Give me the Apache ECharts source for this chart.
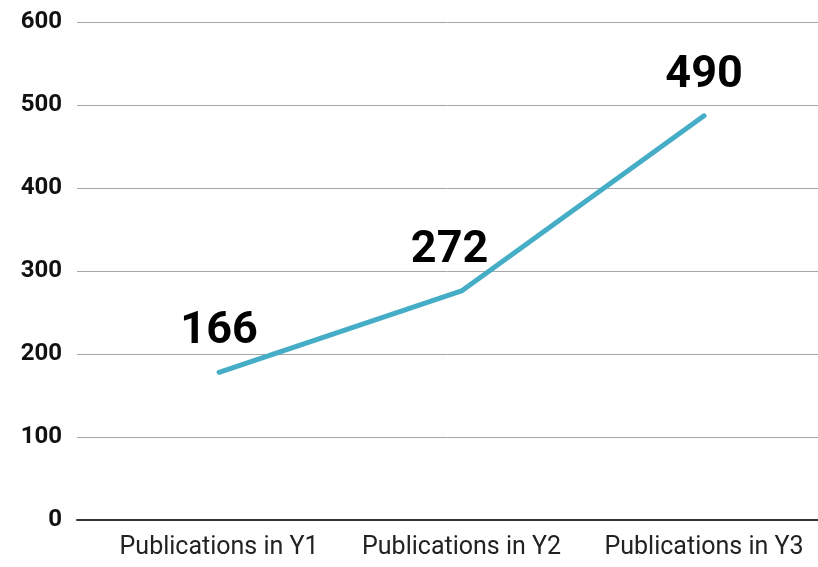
<!DOCTYPE html>
<html>
<head>
<meta charset="utf-8">
<script src="https://cdn.jsdelivr.net/npm/echarts@6/dist/echarts.min.js"></script>
<style>
  html, body { margin: 0; padding: 0; background: #fff; }
  #chart { width: 818px; height: 567px; }
</style>
</head>
<body>
<div id="chart"></div>
<script>
// categories along the x axis
const categories = ["Publications in Y1", "Publications in Y2", "Publications in Y3"];
// where the line sits
const publications = [178, 276, 487];
// numbers printed above each point
const pointLabels = ["166", "272", "490"];
// y ticks
const yMin = 0, yMax = 600, yStep = 100;

const chart = echarts.init(document.getElementById("chart"));

const option = {
  animation: false,
  grid: { left: 77, right: 0, top: 22, bottom: 47, containLabel: false },
  xAxis: {
    type: "value",
    min: -0.586,
    max: 2.47,
    splitLine: { show: false },
    axisLine: { show: true, onZero: false, lineStyle: { color: "#333", width: 2 } },
    axisTick: { show: false },
    axisLabel: {
      customValues: [0, 1, 2],
      formatter: (v) => categories[Math.round(v)] || "",
      color: "#222",
      fontFamily: "Roboto",
      fontSize: 25,
      margin: 15,
    },
  },
  yAxis: {
    type: "value",
    min: yMin,
    max: yMax,
    interval: yStep,
    axisLine: { show: false },
    axisTick: { show: false },
    splitLine: { lineStyle: { color: "#a6a6a6", width: 1 } },
    axisLabel: {
      color: "#111",
      fontFamily: "Roboto",
      fontWeight: "bold",
      fontSize: 24,
      margin: 15,
    },
  },
  series: [
    {
      type: "line",
      data: publications.map((v, i) => ({
        value: [i, v],
        label: { offset: i === 1 ? [-12, 0] : [0, 0] },
      })),
      symbol: "circle",
      symbolSize: 0,
      showSymbol: true,
      itemStyle: { color: "#45adc6", opacity: 1 },
      lineStyle: { color: "#45adc6", width: 5, cap: "round" },
      label: {
        show: true,
        position: "top",
        distance: 18,
        formatter: (p) => pointLabels[p.dataIndex],
        color: "#000",
        opacity: 1,
        fontFamily: "Roboto",
        fontWeight: "bold",
        fontSize: 45,
      },
    },
  ],
};

chart.setOption(option);
</script>
</body>
</html>
